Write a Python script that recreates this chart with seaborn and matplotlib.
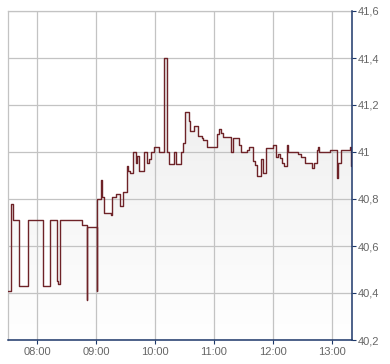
import numpy as np
import pandas as pd
import matplotlib
matplotlib.use("Agg")
import matplotlib.pyplot as plt
from matplotlib.colors import LinearSegmentedColormap
import seaborn as sns

# ---- data ----
times = [
    "07:30:50", "07:33:35", "07:35:55", "07:42:00", "07:51:10", "08:06:25", "08:12:55",
    "08:20:35", "08:21:40", "08:23:40", "08:46:05", "08:50:50", "08:51:20", "09:00:40",
    "09:01:10", "09:05:05", "09:06:35", "09:08:25", "09:15:20", "09:16:20", "09:20:00",
    "09:24:40", "09:27:30", "09:31:30", "09:32:10", "09:34:20", "09:37:35", "09:40:25",
    "09:41:40", "09:43:25", "09:48:30", "09:51:55", "09:53:55", "09:55:55", "09:58:30",
    "10:04:25", "10:09:10", "10:12:30", "10:14:35", "10:19:35", "10:21:25", "10:26:05",
    "10:28:50", "10:30:50", "10:34:20", "10:35:35", "10:39:40", "10:43:40", "10:47:20",
    "10:49:05", "10:52:35", "11:03:25", "11:05:35", "11:07:25", "11:09:30", "11:17:00",
    "11:19:00", "11:25:05", "11:27:50", "11:33:20", "11:35:55", "11:39:25", "11:42:00",
    "11:44:05", "11:48:05", "11:49:30", "11:52:55", "11:59:40", "12:02:50", "12:05:25",
    "12:07:25", "12:09:30", "12:11:30", "12:14:10", "12:15:30", "12:25:40", "12:28:30",
    "12:32:30", "12:40:00", "12:41:25", "12:45:05", "12:45:50", "12:46:50", "12:57:35",
    "13:05:25", "13:06:25", "13:09:30", "13:17:55", "13:19:15",
]
prices = [
    40.41, 40.78, 40.71, 40.43, 40.71, 40.43, 40.71,
    40.45, 40.44, 40.71, 40.69, 40.37, 40.68, 40.41,
    40.80, 40.88, 40.81, 40.74, 40.73, 40.81, 40.82,
    40.77, 40.83, 40.94, 40.92, 40.91, 41.00, 40.955,
    40.985, 40.92, 41.00, 40.955, 40.97, 41.00, 41.02,
    41.00, 41.40, 41.00, 40.95, 41.00, 40.95, 41.00,
    41.04, 41.17, 41.13, 41.09, 41.11, 41.07, 41.06,
    41.05, 41.02, 41.075, 41.10, 41.08, 41.065, 41.00,
    41.06, 41.03, 41.00, 41.01, 41.02, 40.96, 40.945,
    40.90, 40.97, 40.91, 41.015, 41.03, 40.98, 40.99,
    40.975, 40.955, 40.94, 41.03, 41.00, 40.99, 40.98,
    40.955, 40.93, 40.955, 41.01, 41.02, 41.00, 41.01,
    40.89, 40.955, 41.01, 41.02, 40.94,
]
x_ticks = ["08:00", "09:00", "10:00", "11:00", "12:00", "13:00"]
y_ticks = [40.2, 40.4, 40.6, 40.8, 41.0, 41.2, 41.4, 41.6]
y_labels = ["40,2", "40,4", "40,6", "40,8", "41", "41,2", "41,4", "41,6"]
x_range = ["07:30:30", "13:20:20"]


def to_min(s):
    parts = [float(p) for p in s.split(":")]
    while len(parts) < 3:
        parts.append(0.0)
    return parts[0] * 60 + parts[1] + parts[2] / 60


df = pd.DataFrame({"t": [to_min(t) for t in times], "price": prices})

# ---- style ----
sns.set_style("white")
plt.rcParams["font.family"] = ["Liberation Sans", "DejaVu Sans"]

W, H = 390, 364
fig = plt.figure(figsize=(W / 100, H / 100), dpi=100)
ax = fig.add_axes([8 / W, (H - 340) / H, (352 - 8) / W, (340 - 11) / H])

xmin, xmax = to_min(x_range[0]), to_min(x_range[1])
ymin, ymax = y_ticks[0], y_ticks[-1]

# gradient area below the line
poly = ax.fill_between(df["t"], df["price"], ymin, step="post",
                       facecolor="none", edgecolor="none")
cmap = LinearSegmentedColormap.from_list("g", ["#ffffff", "#e9e9e9"])
grad = np.linspace(0, 1, 256).reshape(-1, 1)
im = ax.imshow(grad, extent=[xmin, xmax, ymin, ymax], origin="lower",
               aspect="auto", cmap=cmap, zorder=1, interpolation="bilinear")
im.set_clip_path(poly.get_paths()[0], transform=ax.transData)

sns.lineplot(data=df, x="t", y="price", drawstyle="steps-post",
             color="#6e2328", linewidth=1.0, estimator=None, sort=False,
             ax=ax, zorder=3)

ax.set_xlim(xmin, xmax)
ax.set_ylim(ymin, ymax)

ax.set_xticks([to_min(t) for t in x_ticks])
ax.set_xticklabels(x_ticks)
ax.set_yticks(y_ticks)
ax.set_yticklabels(y_labels)
ax.yaxis.tick_right()

ax.grid(True, color="#c3c3c3", linewidth=0.9, zorder=2)
ax.set_axisbelow(False)
for gl in ax.get_xgridlines() + ax.get_ygridlines():
    gl.set_zorder(2)

ax.set_xlabel("")
ax.set_ylabel("")

navy = "#1d3769"
for side in ["left", "top"]:
    ax.spines[side].set_color("#c3c3c3")
    ax.spines[side].set_linewidth(0.9)
for side in ["right", "bottom"]:
    ax.spines[side].set_color(navy)
    ax.spines[side].set_linewidth(1.1)
    ax.spines[side].set_zorder(4)

ax.tick_params(axis="both", which="both", length=3, width=0.8, color=navy,
               labelcolor="#666666", labelsize=8, pad=1.5)
ax.tick_params(axis="y", right=True, left=False, pad=1)
ax.tick_params(axis="x", bottom=True, pad=2)

fig.savefig("out.png", dpi=100)
